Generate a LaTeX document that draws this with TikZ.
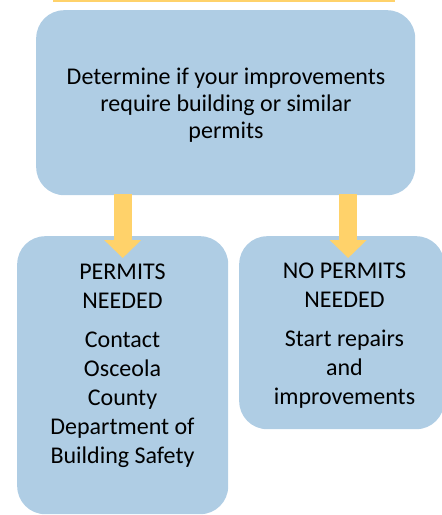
\documentclass[tikz,border=0pt]{standalone}
\usepackage{fontspec}
\setmainfont{Carlito}
\usetikzlibrary{arrows.meta}
\definecolor{boxblue}{RGB}{175,205,228}
\definecolor{arrowgold}{RGB}{255,210,106}
\begin{document}
\begin{tikzpicture}[x=1pt, y=-1pt,
  panel/.style={rectangle, fill=boxblue, rounded corners=28pt, inner sep=0pt, anchor=north west},
  caption/.style={anchor=base, inner sep=0pt, text=black},
  bigtext/.style={font=\fontsize{24}{27}\selectfont},
  smalltext/.style={font=\fontsize{24}{29}\selectfont},
  flow/.style={draw=arrowgold, line width=18pt, -{Triangle[width=36pt, length=18pt]}}]
  \useasboundingbox (0,0) rectangle (442,515);
  % thin gold strip along the top edge
  \fill[arrowgold] (53,0) rectangle (395,1.5);
  % decision box and the two outcomes
  \node[panel, minimum width=379pt, minimum height=185pt] (decide) at (36,10) {};
  \node[panel, minimum width=211pt, minimum height=278pt] (permits) at (17,236) {};
  \node[panel, minimum width=205pt, minimum height=193pt] (noPermits) at (239,236) {};
  % texts
  \node[caption, bigtext] (decideText) at (226,84)
    {\begin{tabular}[t]{@{}c@{}}Determine if your improvements\\require building or similar\\permits\end{tabular}};
  \node[caption, smalltext] (permitsText) at (122.5,279.3)
    {\begin{tabular}[t]{@{}c@{}}PERMITS\\NEEDED\\[10pt]Contact\\Osceola\\County\\Department of\\Building Safety\end{tabular}};
  \node[caption, smalltext] (noPermitsText) at (344.5,278.3)
    {\begin{tabular}[t]{@{}c@{}}NO PERMITS\\NEEDED\\[10pt]Start repairs\\and\\improvements\end{tabular}};
  % arrows from the decision to each outcome
  \draw[flow] ([yshift=1pt]decide.south -| permits.north) -- ([yshift=-22pt]permits.north);
  \draw[flow] ([xshift=6.5pt, yshift=1pt]decide.south -| noPermits.north) -- ([xshift=6.5pt, yshift=-22pt]noPermits.north);
\end{tikzpicture}
\end{document}
